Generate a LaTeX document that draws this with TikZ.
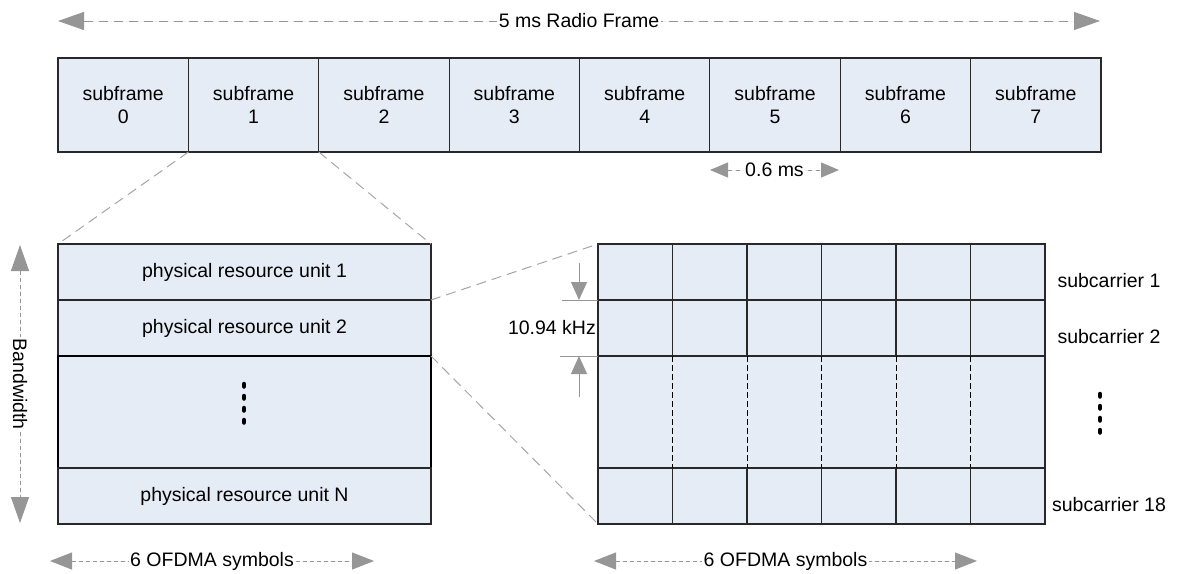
\documentclass[tikz,border=0pt]{standalone}
\usepackage{fontspec}
\setmainfont{Liberation Sans}
\usetikzlibrary{arrows.meta}
\definecolor{cellfill}{RGB}{230,236,246}
\definecolor{dimgray}{RGB}{150,150,150}
\definecolor{guide}{RGB}{165,165,165}
\definecolor{edge}{RGB}{40,40,40}
\tikzset{
  bigtip/.tip={Triangle[length=26pt,width=18pt]},
  midtip/.tip={Triangle[length=22pt,width=17pt]},
  smalltip/.tip={Triangle[length=18pt,width=15pt]},
  marktip/.tip={Triangle[length=18pt,width=16pt]}
}
\begin{document}
\begin{tikzpicture}[x=1pt,y=-1pt,
  font=\fontsize{19.5}{23}\selectfont,
  cell/.style={draw=edge, line width=1.2pt, fill=cellfill, inner sep=0pt, outer sep=0pt, align=center},
  dimline/.style={draw=dimgray, fill=dimgray, line width=1pt},
  dimlabel/.style={fill=white, inner sep=1.5pt, text=black},
  guideline/.style={draw=guide, line width=1pt, dash pattern=on 10pt off 6pt},
  vdots/.style={line width=4.5pt, line cap=round, dash pattern=on 2.5pt off 9.5pt}
]
\useasboundingbox (0,0) rectangle (1178,573);

% ---- radio frame with eight subframes ----
\foreach \i in {0,...,7}
  \node[cell, minimum width=130.375pt, minimum height=94pt]
    (s\i) at ({58+130.375*(\i+0.5)},105) {subframe\\\i};

\coordinate (fa) at (58,21);
\coordinate (fb) at (1100,21);
\draw[dimline, dash pattern=on 9pt off 6pt, bigtip-bigtip] (fa) -- (fb)
  node[midway, dimlabel] {5 ms Radio Frame};

\coordinate (ta) at (710,170);
\coordinate (tb) at (839,170);
\draw[dimline, dash pattern=on 4pt off 4pt, smalltip-smalltip] (ta) -- (tb)
  node[midway, dimlabel] {0.6 ms};

% ---- physical resource units of one subframe ----
\node[cell, minimum width=373pt, minimum height=56pt] (pru1) at (244.5,272) {physical resource unit 1};
\node[cell, minimum width=373pt, minimum height=56pt] (pru2) at (244.5,328) {physical resource unit 2};
\node[cell, minimum width=373pt, minimum height=112pt, draw=black, line width=1.6pt] (prum) at (244.5,412) {};
\node[cell, minimum width=373pt, minimum height=56pt] (pruN) at (244.5,496) {physical resource unit N};
\draw[vdots] (244,384) -- (244,428);

\draw[guideline] (s1.south west) -- (pru1.north west);
\draw[guideline] (s1.south east) -- (pru1.north east);

\coordinate (bwt) at (20,245);
\coordinate (bwb) at (20,523);
\draw[dimline, dash pattern=on 4pt off 3pt, bigtip-bigtip] (bwt) -- (bwb)
  node[midway, dimlabel, rotate=-90] {Bandwidth};

\coordinate (la) at (50,561);
\coordinate (lb) at (374,561);
\draw[dimline, dash pattern=on 4pt off 3pt, midtip-midtip] (la) -- (lb)
  node[midway, dimlabel] {6 OFDMA symbols};

% ---- subcarrier / symbol grid of one resource unit ----
\foreach \c in {1,...,6} {
  \node[cell, minimum width=74.5pt, minimum height=56pt] (g1-\c) at ({598+74.5*(\c-0.5)},272) {};
  \node[cell, minimum width=74.5pt, minimum height=56pt] (g2-\c) at ({598+74.5*(\c-0.5)},328) {};
  \node[cell, minimum width=74.5pt, minimum height=56pt] (g4-\c) at ({598+74.5*(\c-0.5)},496) {};
}
\node[cell, minimum width=447pt, minimum height=112pt] (gm) at (821.5,412) {};
\foreach \c in {1,...,5}
  \draw[black, line width=1pt, dash pattern=on 6pt off 3pt] (g2-\c.south east) -- (g4-\c.north east);

\draw[guideline] (pru2.north east) -- (g1-1.north west);
\draw[guideline] (pru2.south east) -- (g4-1.south west);

\node[anchor=center] (sc1) at (1109,281) {subcarrier 1};
\node[anchor=center] (sc2) at (1109,337) {subcarrier 2};
\node[anchor=center] (sc18) at (1109,505) {subcarrier 18};
\draw[vdots] (1100,394) -- (1100,434);

% subcarrier spacing marker
\coordinate (k1a) at (562,300);
\coordinate (k2a) at (560,356);
\draw[dimgray, line width=1pt] (k1a) -- (g2-1.north west);
\draw[dimgray, line width=1pt] (k2a) -- (g2-1.south west);
\coordinate (ka) at (579,263);
\coordinate (kb) at (579,300);
\coordinate (kc) at (579,397);
\coordinate (kd) at (579,356);
\draw[dimline, -marktip] (ka) -- (kb);
\draw[dimline, -marktip] (kc) -- (kd);
\node[anchor=east, inner sep=1pt] (khz) at (597,328) {10.94 kHz};

\coordinate (ra) at (594,561);
\coordinate (rb) at (977,561);
\draw[dimline, dash pattern=on 4pt off 3pt, midtip-midtip] (ra) -- (rb)
  node[midway, dimlabel] {6 OFDMA symbols};
\end{tikzpicture}
\end{document}
